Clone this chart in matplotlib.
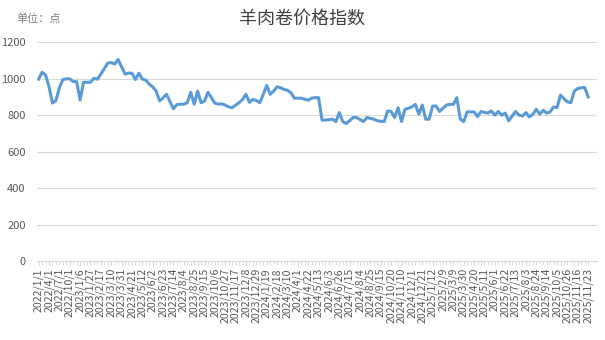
import numpy as np
import matplotlib
matplotlib.use('Agg')
from matplotlib import pyplot as plt

plt.rcParams['font.family'] = ['Noto Sans CJK SC', 'DejaVu Sans']

# tick labels, one every 3 categories
tick_labels = ['2022/1/1', '2022/4/1', '2022/7/1', '2022/10/1', '2023/1/6', '2023/1/27',
               '2023/2/17', '2023/3/10', '2023/3/31', '2023/4/21', '2023/5/12', '2023/6/2',
               '2023/6/23', '2023/7/14', '2023/8/4', '2023/8/25', '2023/9/15', '2023/10/6',
               '2023/10/27', '2023/11/17', '2023/12/8', '2023/12/29', '2024/1/19', '2024/2/18',
               '2024/3/10', '2024/4/1', '2024/4/22', '2024/5/13', '2024/6/3', '2024/6/26',
               '2024/7/15', '2024/8/4', '2024/8/25', '2024/9/15', '2024/10/20', '2024/11/10',
               '2024/12/1', '2024/12/21', '2025/1/12', '2025/2/9', '2025/3/9', '2025/3/30',
               '2025/4/20', '2025/5/11', '2025/6/1', '2025/6/22', '2025/7/13', '2025/8/3',
               '2025/8/24', '2025/9/14', '2025/10/5', '2025/10/26', '2025/11/16', '2025/11/23']

# index values
values = [997, 1035, 1020, 956, 866, 880, 950, 995, 999, 999,
          984, 984, 883, 980, 980, 980, 1002, 997, 1025, 1055,
          1085, 1088, 1080, 1105, 1065, 1025, 1030, 1030, 995, 1030,
          998, 992, 970, 955, 932, 878, 895, 914, 875, 835,
          858, 860, 860, 868, 925, 860, 932, 868, 877, 925,
          895, 866, 860, 862, 855, 845, 841, 855, 868, 886,
          914, 870, 886, 880, 868, 914, 963, 914, 932, 955,
          950, 941, 936, 923, 893, 893, 893, 887, 882, 893,
          896, 896, 773, 773, 775, 778, 765, 814, 765, 754,
          770, 787, 787, 776, 765, 787, 782, 778, 769, 766,
          765, 823, 820, 787, 841, 765, 832, 838, 845, 859,
          805, 855, 778, 778, 850, 850, 820, 838, 855, 859,
          859, 896, 778, 765, 818, 818, 818, 792, 820, 815,
          811, 823, 800, 820, 800, 811, 769, 795, 820, 800,
          795, 814, 790, 805, 832, 805, 827, 811, 818, 845,
          841, 910, 890, 873, 868, 932, 946, 950, 952, 900]

x = np.arange(len(values))

fig = plt.figure(figsize=(6.05, 3.4), dpi=100)
ax = fig.add_axes([0.061, 0.232, 0.926, 0.644])

ax.plot(x, values, color='#5B9BD5', linewidth=2.2, solid_joinstyle='round')

ax.set_ylim(0, 1200)
ax.set_yticks(range(0, 1201, 200))
ax.set_xlim(-0.5, 161.6)
ax.set_xticks(x[::3])
ax.set_xticklabels(tick_labels, rotation=90, fontsize=7.6, color='#595959')
ax.set_xticks(x, minor=True)
ax.tick_params(axis='x', which='both', length=3, color='#D9D9D9', pad=2)
ax.tick_params(axis='y', length=0, labelsize=8, labelcolor='#595959', pad=8)

ax.grid(axis='y', color='#D9D9D9', linewidth=0.8)
ax.set_axisbelow(True)
for s in ['top', 'right', 'left']:
    ax.spines[s].set_visible(False)
ax.spines['bottom'].set_color('#D9D9D9')

fig.text(0.5, 0.945, '羊肉卷价格指数', ha='center', va='center', fontsize=13, color='#404040')
fig.text(0.027, 0.945, '单位：点', ha='left', va='center', fontsize=8, color='#7F7F7F')

fig.savefig('out.png', dpi=100)
